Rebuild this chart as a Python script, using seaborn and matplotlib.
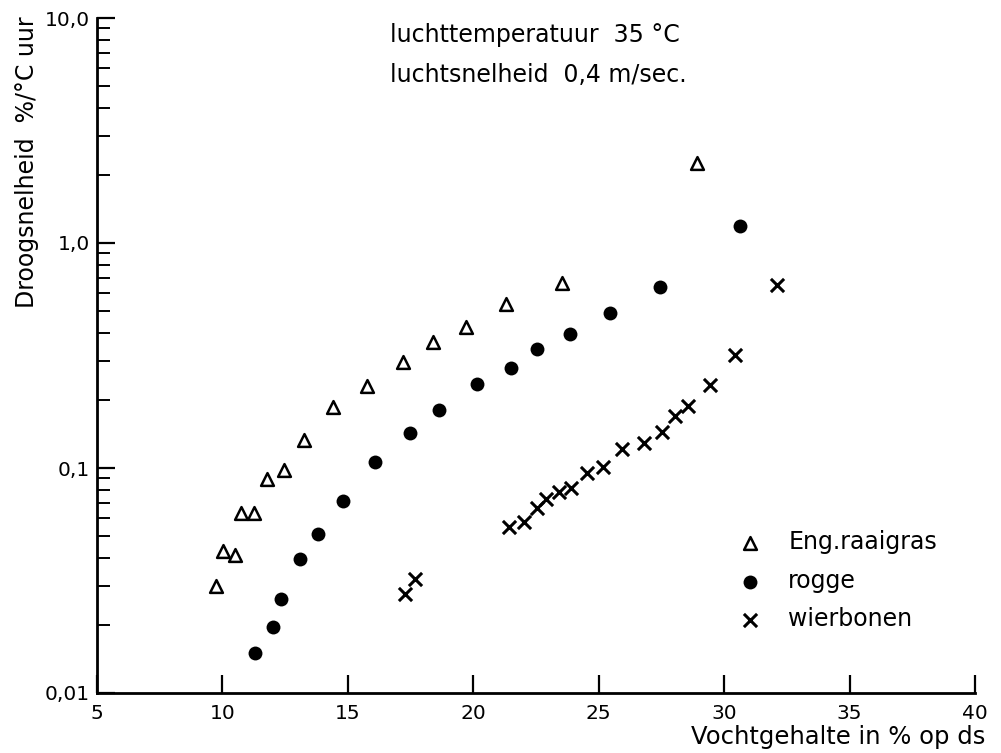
import numpy as np
import pandas as pd
import matplotlib
matplotlib.use("Agg")
import matplotlib.pyplot as plt
from matplotlib.ticker import FixedLocator, FixedFormatter, LogLocator, NullFormatter
import seaborn as sns

# ---- data ----
raaigras_x = [9.74, 10.02, 10.50, 10.74, 11.25, 11.77, 12.45, 13.25, 14.40, 15.76,
              17.19, 18.39, 19.70, 21.29, 23.53, 28.90]
raaigras_y = [0.030, 0.0428, 0.041, 0.063, 0.063, 0.0893, 0.098, 0.133, 0.187, 0.231,
              0.296, 0.363, 0.423, 0.535, 0.664, 2.27]

rogge_x = [11.29, 12.01, 12.33, 13.09, 13.80, 14.80, 16.08, 17.47, 18.63, 20.14,
           21.49, 22.53, 23.84, 25.44, 27.43, 30.62]
rogge_y = [0.0151, 0.0197, 0.0262, 0.0394, 0.0509, 0.0713, 0.106, 0.143, 0.181, 0.236,
           0.278, 0.338, 0.394, 0.489, 0.637, 1.19]

wierbonen_x = [17.27, 17.67, 21.41, 22.01, 22.53, 22.89, 23.41, 23.88, 24.52, 25.16,
               25.92, 26.79, 27.51, 28.03, 28.55, 29.42, 30.42, 32.09]
wierbonen_y = [0.0275, 0.0321, 0.0547, 0.0575, 0.0664, 0.0728, 0.0782, 0.0815, 0.0950, 0.101,
               0.121, 0.129, 0.145, 0.170, 0.189, 0.234, 0.318, 0.651]

series_labels = ["Eng.raaigras", "rogge", "wierbonen"]
x_ticks = [5, 10, 15, 20, 25, 30, 35, 40]
x_ticklabels = ["5", "10", "15", "20", "25", "30", "35", "40"]
y_ticks = [0.01, 0.1, 1.0, 10.0]
y_ticklabels = ["0,01", "0,1", "1,0", "10,0"]
title_lines = ["luchttemperatuur  35 °C", "luchtsnelheid  0,4 m/sec."]
x_label = "Vochtgehalte in % op ds"
y_label = "Droogsnelheid  %/°C uur"

df = pd.concat([
    pd.DataFrame({"x": raaigras_x, "y": raaigras_y, "serie": series_labels[0]}),
    pd.DataFrame({"x": rogge_x, "y": rogge_y, "serie": series_labels[1]}),
    pd.DataFrame({"x": wierbonen_x, "y": wierbonen_y, "serie": series_labels[2]}),
], ignore_index=True)

sns.set_style("ticks")
plt.rcParams["font.family"] = ["DejaVu Sans"]
plt.rcParams["text.color"] = "black"
plt.rcParams["axes.labelcolor"] = "black"
plt.rcParams["xtick.color"] = "black"
plt.rcParams["ytick.color"] = "black"

fig = plt.figure(figsize=(10.01, 7.53), dpi=100)
ax = fig.add_axes([97 / 1001, 1 - 693 / 753, (975 - 97) / 1001, (693 - 18) / 753])

sns.scatterplot(data=df[df.serie == series_labels[0]], x="x", y="y", ax=ax,
                marker="^", s=85, facecolor="white", edgecolor="black",
                linewidth=1.8, label=series_labels[0], zorder=3)
sns.scatterplot(data=df[df.serie == series_labels[1]], x="x", y="y", ax=ax,
                marker="o", s=100, color="black", edgecolor="black",
                linewidth=0, label=series_labels[1], zorder=3)
sns.scatterplot(data=df[df.serie == series_labels[2]], x="x", y="y", ax=ax,
                marker="x", s=90, color="black", linewidth=2.2,
                label=series_labels[2], zorder=3)

ax.set_yscale("log")
ax.set_xlim(5, 40)
ax.set_ylim(0.01, 10)

ax.xaxis.set_major_locator(FixedLocator(x_ticks))
ax.xaxis.set_major_formatter(FixedFormatter(x_ticklabels))
ax.yaxis.set_major_locator(FixedLocator(y_ticks))
ax.yaxis.set_major_formatter(FixedFormatter(y_ticklabels))
ax.yaxis.set_minor_locator(LogLocator(base=10, subs=np.arange(2, 10)))
ax.yaxis.set_minor_formatter(NullFormatter())
ax.xaxis.set_minor_locator(FixedLocator([]))

for s in ["top", "right"]:
    ax.spines[s].set_visible(False)
for s in ["left", "bottom"]:
    ax.spines[s].set_linewidth(2.0)
    ax.spines[s].set_color("black")

ax.tick_params(axis="both", which="major", direction="in", length=13, width=1.6,
               labelsize=14.5, colors="black")
ax.tick_params(axis="y", which="minor", direction="in", length=9, width=1.4, colors="black")
ax.tick_params(axis="x", which="major", pad=8)
ax.tick_params(axis="y", which="major", pad=5)

ax.set_xlabel(x_label, fontsize=17.5, ha="right")
ax.xaxis.set_label_coords(1.012, -0.048)
ax.set_ylabel(y_label, fontsize=17)
ax.yaxis.set_label_coords(-0.066, 0.787)

for i, line in enumerate(title_lines):
    ax.text(390 / 1001, 1 - (35 + 40 * i) / 753, line, transform=fig.transFigure,
            fontsize=17, ha="left", va="center")

ax.legend(loc="upper left", bbox_to_anchor=(0.706, 0.255), frameon=False,
          fontsize=17, handletextpad=0.62, labelspacing=0.61, borderaxespad=0)

fig.savefig("out.png", dpi=100)
